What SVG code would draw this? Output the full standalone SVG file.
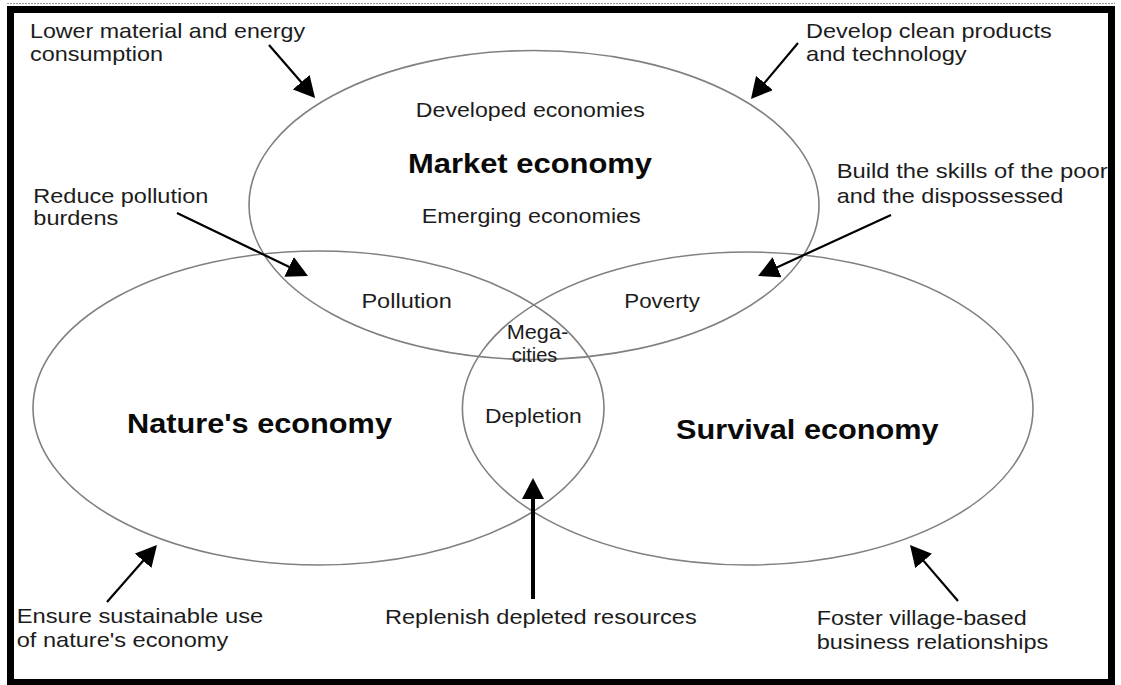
<svg xmlns="http://www.w3.org/2000/svg" width="1121" height="685" viewBox="0 0 1121 685">
  <style>
    .ring { fill: none; stroke: #808080; stroke-width: 1.6; }
    .lbl { font-family: "Liberation Sans", Arial, sans-serif; font-size: 21px; fill: #1c1c1c; }
    .tight { font-size: 20px; }
    .title { font-family: "Liberation Sans", Arial, sans-serif; font-size: 28px; font-weight: bold; fill: #0a0a0a; }
    .arrow { stroke: #000; stroke-width: 2.2; fill: none; marker-end: url(#head); }
    .arrow.thick { stroke-width: 4; }
  </style>
  <defs>
    <marker id="head" markerUnits="userSpaceOnUse" markerWidth="21" markerHeight="22" viewBox="0 0 21 22" refX="13" refY="11" orient="auto">
      <path d="M0,0 L21,11 L0,22 Z" fill="#000"/>
    </marker>
  </defs>

  <rect width="1121" height="685" fill="#fff"/>
  <!-- frame -->
  <line x1="7" y1="3.5" x2="1115" y2="3.5" stroke="#9a9a9a" stroke-width="1" stroke-dasharray="2 1"/>
  <rect x="10.5" y="9.5" width="1101" height="673" fill="none" stroke="#000" stroke-width="7"/>

  <!-- three economies -->
  <g id="market-economy">
    <ellipse class="ring" cx="534" cy="205" rx="285" ry="154.5"/>
    <text class="lbl" x="415.8" y="116.7" textLength="229" lengthAdjust="spacingAndGlyphs">Developed economies</text>
    <text class="title" x="408" y="172.7" textLength="244" lengthAdjust="spacingAndGlyphs">Market economy</text>
    <text class="lbl" x="421.7" y="222.7" textLength="219" lengthAdjust="spacingAndGlyphs">Emerging economies</text>
  </g>
  <g id="natures-economy">
    <ellipse class="ring" cx="318.5" cy="408" rx="285.5" ry="157"/>
    <text class="title" x="127" y="433.3" textLength="265" lengthAdjust="spacingAndGlyphs">Nature's economy</text>
  </g>
  <g id="survival-economy">
    <ellipse class="ring" cx="747.7" cy="408.5" rx="285.3" ry="156.5"/>
    <text class="title" x="676" y="439" textLength="262.6" lengthAdjust="spacingAndGlyphs">Survival economy</text>
  </g>

  <!-- overlap zones -->
  <g id="pollution">
    <text class="lbl" x="361.4" y="308.3" textLength="90.4" lengthAdjust="spacingAndGlyphs">Pollution</text>
  </g>
  <g id="poverty">
    <text class="lbl" x="624.3" y="308.3" textLength="75.7" lengthAdjust="spacingAndGlyphs">Poverty</text>
  </g>
  <g id="megacities">
    <text class="lbl" x="506.7" y="339.3" textLength="61.6" lengthAdjust="spacingAndGlyphs">Mega-</text>
    <text class="lbl" x="511.7" y="362" textLength="45.6" lengthAdjust="spacingAndGlyphs">cities</text>
  </g>
  <g id="depletion">
    <text class="lbl" x="485" y="422.7" textLength="96.7" lengthAdjust="spacingAndGlyphs">Depletion</text>
  </g>

  <!-- strategy notes -->
  <g id="note-lower-consumption">
    <text class="lbl" x="30" y="37.7" textLength="275" lengthAdjust="spacingAndGlyphs">Lower material and energy</text>
    <text class="lbl" x="30" y="61" textLength="133" lengthAdjust="spacingAndGlyphs">consumption</text>
  </g>
  <g id="note-clean-products">
    <text class="lbl" x="806" y="37.7" textLength="245.7" lengthAdjust="spacingAndGlyphs">Develop clean products</text>
    <text class="lbl" x="806" y="61" textLength="160.7" lengthAdjust="spacingAndGlyphs">and technology</text>
  </g>
  <g id="note-reduce-pollution">
    <text class="lbl tight" x="33.3" y="203" textLength="175" lengthAdjust="spacingAndGlyphs">Reduce pollution</text>
    <text class="lbl tight" x="33.3" y="225" textLength="85" lengthAdjust="spacingAndGlyphs">burdens</text>
  </g>
  <g id="note-build-skills">
    <text class="lbl" x="836.7" y="178" textLength="271" lengthAdjust="spacingAndGlyphs">Build the skills of the poor</text>
    <text class="lbl" x="836.7" y="203.3" textLength="226.6" lengthAdjust="spacingAndGlyphs">and the dispossessed</text>
  </g>
  <g id="note-sustainable-use">
    <text class="lbl" x="16.7" y="623.3" textLength="246.6" lengthAdjust="spacingAndGlyphs">Ensure sustainable use</text>
    <text class="lbl" x="16.7" y="647.3" textLength="211.6" lengthAdjust="spacingAndGlyphs">of nature's economy</text>
  </g>
  <g id="note-replenish">
    <text class="lbl" x="385" y="624" textLength="311.7" lengthAdjust="spacingAndGlyphs">Replenish depleted resources</text>
  </g>
  <g id="note-village-business">
    <text class="lbl" x="816.7" y="625" textLength="210" lengthAdjust="spacingAndGlyphs">Foster village-based</text>
    <text class="lbl" x="816.7" y="649.3" textLength="231.6" lengthAdjust="spacingAndGlyphs">business relationships</text>
  </g>

  <!-- arrows from notes into the diagram -->
  <g id="connectors">
    <line class="arrow" x1="269" y1="45" x2="309.8" y2="92"/>
    <line class="arrow" x1="798" y1="43" x2="756.1" y2="92.9"/>
    <line class="arrow" x1="177" y1="213" x2="300.8" y2="272.5"/>
    <line class="arrow" x1="891" y1="215" x2="765.3" y2="272.7"/>
    <line class="arrow" x1="107" y1="602" x2="151.7" y2="551"/>
    <line class="arrow thick" x1="533" y1="599" x2="533" y2="486"/>
    <line class="arrow" x1="958" y1="601" x2="915.2" y2="551.1"/>
  </g>
</svg>
